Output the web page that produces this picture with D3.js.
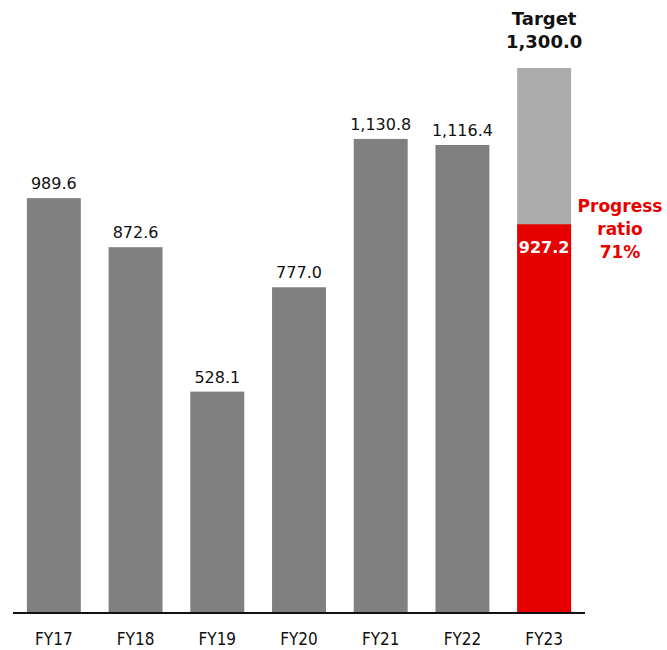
<!DOCTYPE html>
<html>
<head>
<meta charset="utf-8">
<script src="https://cdn.jsdelivr.net/npm/d3@7"></script>
<style>
  html, body { margin: 0; padding: 0; background: #fff; }
  svg { display: block; font-family: "DejaVu Sans", Verdana, sans-serif; }
</style>
</head>
<body>
<svg id="chart" width="667" height="650"></svg>
<script>
// Fiscal years and results
const years = ["FY17", "FY18", "FY19", "FY20", "FY21", "FY22", "FY23"];
const results = [989.6, 872.6, 528.1, 777.0, 1130.8, 1116.4, 927.2];
const targetValue = 1300.0;
const targetYear = "FY23";
const progressLines = ["Progress", "ratio", "71%"];

const svg = d3.select("#chart");
const fmt = d3.format(",.1f");

const x = d3.scaleBand().domain(years).range([13, 585]).paddingInner(0.34).paddingOuter(0.17);
const y = d3.scaleLinear().domain([0, targetValue]).range([613, 68]);

// target (remaining) bar for current year
svg.append("rect")
  .attr("x", x(targetYear)).attr("width", x.bandwidth())
  .attr("y", y(targetValue)).attr("height", y(0) - y(targetValue))
  .attr("fill", "#ababab");

// result bars
const rows = years.map((d, i) => ({ year: d, v: results[i] }));
svg.selectAll("rect.bar").data(rows)
  .join("rect").attr("class", "bar")
  .attr("x", d => x(d.year)).attr("width", x.bandwidth())
  .attr("y", d => y(d.v)).attr("height", d => y(0) - y(d.v))
  .attr("fill", d => d.year === targetYear ? "#e60000" : "#808080");

// value labels above past-year bars
svg.selectAll("text.val").data(rows.filter(d => d.year !== targetYear))
  .join("text").attr("class", "val")
  .attr("x", d => x(d.year) + x.bandwidth() / 2)
  .attr("y", d => y(d.v) - 9)
  .attr("text-anchor", "middle").attr("font-size", 16).attr("fill", "#111")
  .text(d => fmt(d.v));

// current-year value inside red bar
const cur = results[years.indexOf(targetYear)];
svg.append("text")
  .attr("x", x(targetYear) + x.bandwidth() / 2).attr("y", y(cur) + 29)
  .attr("text-anchor", "middle").attr("font-size", 16).attr("font-weight", "bold").attr("fill", "#fff")
  .text(fmt(cur));

// target label
const tg = svg.append("text").attr("text-anchor", "middle").attr("font-size", 18).attr("font-weight", "bold").attr("fill", "#111");
tg.append("tspan").attr("x", x(targetYear) + x.bandwidth() / 2).attr("y", 25).text("Target");
tg.append("tspan").attr("x", x(targetYear) + x.bandwidth() / 2).attr("y", 48).text(fmt(targetValue));

// progress ratio label
const pr = svg.append("text").attr("text-anchor", "middle").attr("font-size", 17).attr("font-weight", "bold").attr("fill", "#e60000");
progressLines.forEach((t, i) => {
  pr.append("tspan").attr("x", 620).attr("y", 212 + i * 23).text(t);
});

// x axis
const xAxis = svg.append("g").attr("transform", `translate(0,${y(0)})`)
  .call(d3.axisBottom(x).tickSize(0));
xAxis.select(".domain").attr("stroke", "#111").attr("stroke-width", 2).attr("d", "M13,0H585");
xAxis.selectAll("text")
  .attr("y", 32).attr("dy", null)
  .attr("font-size", 17).attr("fill", "#111")
  .attr("font-family", "'DejaVu Sans Condensed', 'DejaVu Sans', sans-serif");
</script>
</body>
</html>
